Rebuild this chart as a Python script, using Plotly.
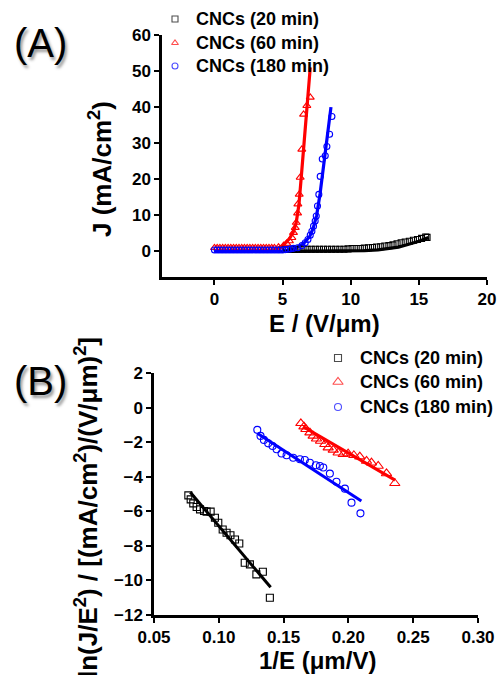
import plotly.graph_objects as go

# ---------------- Panel A data: J (mA/cm2) vs E (V/um) ----------------
E20 = [5.0, 5.3, 5.6, 5.9, 6.2, 6.5, 6.8, 7.1, 7.4, 7.7, 8.0, 8.3, 8.6, 8.9, 9.2, 9.5, 9.8,
       10.1, 10.4, 10.7, 11.0, 11.3, 11.6, 11.9, 12.2, 12.5, 12.8, 13.1, 13.4, 13.7, 14.0,
       14.3, 14.6, 14.9, 15.2, 15.5, 15.6]
J20 = [0.6, 0.6, 0.6, 0.6, 0.6, 0.6, 0.6, 0.6, 0.6, 0.6, 0.6, 0.6, 0.6, 0.6, 0.6, 0.6, 0.7,
       0.8, 0.8, 0.8, 0.9, 1.0, 1.1, 1.2, 1.3, 1.5, 1.6, 1.8, 2.1, 2.4, 2.6,
       2.8, 3.1, 3.3, 3.6, 4.0, 3.9]
E20_fit = [5.0, 10.0, 11.0, 12.0, 12.5, 13.0, 13.5, 14.0, 14.5, 15.0, 15.5, 15.7]
J20_fit = [0.0, 0.1, 0.2, 0.4, 0.6, 0.9, 1.2, 1.7, 2.2, 2.8, 3.5, 3.9]

E60 = [0.0, 0.2, 0.4, 0.6, 0.8, 1.0, 1.2, 1.4, 1.6, 1.8, 2.0, 2.2, 2.4, 2.6, 2.8, 3.0, 3.2,
       3.4, 3.6, 3.8, 4.0, 4.2, 4.4, 4.7, 5.07, 5.3, 5.5, 5.68, 5.8, 5.93, 6.0, 6.1, 6.12,
       6.22, 6.29, 6.41, 6.54, 6.78, 7.03]
J60 = [1.0, 1.0, 1.0, 1.0, 1.0, 1.0, 1.0, 1.0, 1.0, 1.0, 1.0, 1.0, 1.0, 1.0, 1.0, 1.0, 1.0,
       1.0, 1.0, 1.0, 1.0, 1.0, 1.0, 1.2, 1.6, 2.2, 2.9, 3.8, 5.2, 6.6, 8.0, 10.6, 13.1,
       15.8, 20.5, 28.3, 38.0, 40.4, 42.7]
E60_fit = [0.0, 4.0, 4.5, 5.0, 5.5, 5.8, 6.0, 6.2, 6.4, 6.6, 6.8, 7.03]
J60_fit = [0.0, 0.1, 0.6, 1.6, 3.5, 5.5, 8.0, 13.0, 22.0, 31.0, 40.0, 51.0]

E180 = [0.0, 0.2, 0.4, 0.6, 0.8, 1.0, 1.2, 1.4, 1.6, 1.8, 2.0, 2.2, 2.4, 2.6, 2.8, 3.0, 3.2,
        3.4, 3.6, 3.8, 4.0, 4.2, 4.4, 4.6, 4.8, 5.0, 5.2, 5.4, 5.6, 5.8, 6.1, 6.42, 6.66,
        6.86, 7.03, 7.15, 7.27, 7.39, 7.47, 7.56, 7.66, 7.76, 7.91, 8.13, 8.25, 8.45, 8.62]
J180 = [0.4, 0.4, 0.4, 0.4, 0.4, 0.4, 0.4, 0.4, 0.4, 0.4, 0.4, 0.4, 0.4, 0.4, 0.4, 0.4, 0.4,
        0.4, 0.4, 0.4, 0.4, 0.4, 0.4, 0.4, 0.4, 0.4, 0.5, 0.6, 0.7, 0.85, 1.0, 1.6, 2.4,
        3.3, 4.5, 5.6, 7.0, 8.4, 9.8, 12.6, 15.8, 20.8, 25.6, 26.5, 29.1, 32.5, 37.4]
E180_fit = [0.0, 5.0, 5.5, 6.0, 6.5, 7.0, 7.25, 7.5, 7.75, 8.0, 8.25, 8.55]
J180_fit = [0.0, 0.1, 0.4, 1.0, 2.0, 4.2, 6.5, 10.0, 16.0, 23.0, 30.0, 40.0]

# ---------------- Panel B data: ln(J/E^2) vs 1/E ----------------
invE20 = [0.0765, 0.0783, 0.0803, 0.0829, 0.0855, 0.0886, 0.0906, 0.0937, 0.0970, 0.0996,
          0.1030, 0.1060, 0.1090, 0.1125, 0.1158, 0.1200, 0.1240, 0.1290, 0.1340, 0.1394]
lnJ20 = [-5.08, -5.31, -5.54, -5.75, -5.89, -5.98, -6.02, -6.02, -6.37, -6.66,
         -7.05, -7.24, -7.39, -7.63, -7.86, -8.98, -9.07, -9.65, -9.50, -11.0]
invE20_fit = [0.078, 0.140]
lnJ20_fit = [-4.9, -10.4]

invE60 = [0.1633, 0.1657, 0.1672, 0.1703, 0.1728, 0.1754, 0.1785, 0.1818, 0.1844, 0.1883,
          0.1921, 0.1960, 0.1998, 0.2042, 0.2088, 0.2140, 0.2178, 0.2230, 0.2294, 0.2358]
lnJ60 = [-0.91, -1.10, -1.25, -1.45, -1.64, -1.80, -1.93, -2.12, -2.32, -2.45,
         -2.61, -2.70, -2.66, -2.76, -2.84, -3.09, -3.19, -3.38, -3.81, -4.38]
invE60_fit = [0.165, 0.236]
lnJ60_fit = [-1.1, -4.2]

invE180 = [0.1297, 0.1322, 0.1348, 0.1381, 0.1415, 0.1446, 0.1484, 0.1523, 0.1574, 0.1626,
           0.1664, 0.1703, 0.1749, 0.1780, 0.1806, 0.1857, 0.1908, 0.1973, 0.2024, 0.2093]
lnJ180 = [-1.29, -1.64, -1.87, -2.07, -2.22, -2.41, -2.66, -2.76, -2.90, -2.99,
          -3.03, -3.19, -3.34, -3.38, -3.47, -3.82, -4.29, -4.69, -5.50, -6.12]
invE180_fit = [0.130, 0.210]
lnJ180_fit = [-1.5, -5.4]

names = ["CNCs (20 min)", "CNCs (60 min)", "CNCs (180 min)"]
colors = ["#000000", "#FF0000", "#0000FF"]
symbols = ["square-open", "triangle-up-open", "circle-open"]
sizesA = [6, 7, 6]
sizesB = [7, 9, 7]

FONT = "Liberation Sans, Arial, sans-serif"
W, H = 499, 675

# legend layout (pixel positions of the key blocks)
legA_marker_x, legA_text_x, legA_rows = 175, 194, [19, 43, 66]
legB_marker_x, legB_text_x, legB_rows = 338, 358, [358, 382, 407]

fig = go.Figure()

# Panel A
a_marks = [(E20, J20), (E60, J60), (E180, J180)]
a_fits = [(E20_fit, J20_fit), (E60_fit, J60_fit), (E180_fit, J180_fit)]
for i in [1, 2, 0]:
    fx, fy = a_fits[i]
    fig.add_trace(go.Scatter(x=fx, y=fy, mode="lines", line=dict(color=colors[i], width=3.2),
                             showlegend=False, xaxis="x", yaxis="y", hoverinfo="skip"))
for i in range(3):
    mx, my = a_marks[i]
    fig.add_trace(go.Scatter(x=mx, y=my, mode="markers", name=names[i], showlegend=False,
                             marker=dict(symbol=symbols[i], size=sizesA[i], color=colors[i],
                                         line=dict(width=1.1, color=colors[i])),
                             xaxis="x", yaxis="y"))

# Panel B
b_marks = [(invE20, lnJ20), (invE60, lnJ60), (invE180, lnJ180)]
b_fits = [(invE20_fit, lnJ20_fit), (invE60_fit, lnJ60_fit), (invE180_fit, lnJ180_fit)]
for i in range(3):
    mx, my = b_marks[i]
    fig.add_trace(go.Scatter(x=mx, y=my, mode="markers", name=names[i], showlegend=False,
                             marker=dict(symbol=symbols[i], size=sizesB[i], color=colors[i],
                                         line=dict(width=1.1, color=colors[i])),
                             xaxis="x2", yaxis="y2"))
for i in range(3):
    fx, fy = b_fits[i]
    fig.add_trace(go.Scatter(x=fx, y=fy, mode="lines", line=dict(color=colors[i], width=3),
                             showlegend=False, xaxis="x2", yaxis="y2", hoverinfo="skip"))

# legend key symbols drawn on a hidden full-page pixel overlay
for i in range(3):
    fig.add_trace(go.Scatter(x=[legA_marker_x, legB_marker_x], y=[legA_rows[i], legB_rows[i]],
                             mode="markers", showlegend=False, hoverinfo="skip",
                             marker=dict(symbol=symbols[i], size=[6, sizesB[i]], color=colors[i],
                                         line=dict(width=1.1, color=colors[i])),
                             xaxis="x3", yaxis="y3"))


def px_x(p):
    return p / W


def px_y(p):
    return 1 - p / H


axis_common = dict(showline=True, linecolor="black", linewidth=2.5, ticks="outside",
                   ticklen=5, tickwidth=2, tickcolor="black", showgrid=False, zeroline=False,
                   mirror=False, automargin=False,
                   tickfont=dict(family=FONT, size=17, color="black", weight="bold"))

fig.update_layout(
    width=W, height=H,
    margin=dict(l=0, r=0, t=0, b=0, autoexpand=False),
    paper_bgcolor="white", plot_bgcolor="rgba(0,0,0,0)",
    font=dict(family=FONT, color="black"),
    showlegend=False,
    xaxis=dict(domain=[px_x(162), px_x(487)], range=[-3.85, 20], tick0=0, dtick=5,
               anchor="y", **axis_common),
    yaxis=dict(domain=[px_y(277), px_y(35)], range=[-7.1, 60], tick0=0, dtick=10,
               anchor="x", **axis_common),
    xaxis2=dict(domain=[px_x(154), px_x(478)], range=[0.05, 0.30], tick0=0.05, dtick=0.05,
                tickformat=".2f", anchor="y2", **axis_common),
    yaxis2=dict(domain=[px_y(615), px_y(373)], range=[-12, 2], tick0=-12, dtick=2,
                anchor="x2", **axis_common),
    xaxis3=dict(domain=[0, 1], range=[0, W], visible=False, anchor="y3", fixedrange=True),
    yaxis3=dict(domain=[0, 1], range=[H, 0], visible=False, anchor="x3", fixedrange=True),
)

ann = []
for i in range(3):
    ann.append(dict(text=names[i], x=px_x(legA_text_x), y=px_y(legA_rows[i]), xref="paper",
                    yref="paper", showarrow=False, xanchor="left", yanchor="middle",
                    font=dict(family=FONT, size=18, color="black", weight="bold")))
    ann.append(dict(text=names[i], x=px_x(legB_text_x), y=px_y(legB_rows[i]), xref="paper",
                    yref="paper", showarrow=False, xanchor="left", yanchor="middle",
                    font=dict(family=FONT, size=18, color="black", weight="bold")))
ann.append(dict(text="(A)", x=px_x(40), y=px_y(43), xref="paper", yref="paper",
                showarrow=False, xanchor="center", yanchor="middle",
                font=dict(family=FONT, size=40, color="black", shadow="2px 3px 3px #999")))
ann.append(dict(text="(B)", x=px_x(40), y=px_y(381), xref="paper", yref="paper",
                showarrow=False, xanchor="center", yanchor="middle",
                font=dict(family=FONT, size=40, color="black", shadow="2px 3px 3px #999")))
ann.append(dict(text="E / (V/μm)", x=px_x(324), y=px_y(323), xref="paper", yref="paper",
                showarrow=False, xanchor="center", yanchor="middle",
                font=dict(family=FONT, size=24, color="black", weight="bold")))
ann.append(dict(text="J (mA/cm<sup>2</sup>)", x=px_x(100), y=px_y(169), xref="paper",
                yref="paper", showarrow=False, textangle=-90, xanchor="center",
                yanchor="middle", font=dict(family=FONT, size=26, color="black", weight="bold")))
ann.append(dict(text="1/E (μm/V)", x=px_x(317), y=px_y(660), xref="paper", yref="paper",
                showarrow=False, xanchor="center", yanchor="middle",
                font=dict(family=FONT, size=24, color="black", weight="bold")))
ann.append(dict(text="ln(J/E<sup>2</sup>) / [(mA/cm<sup>2</sup>)/(V/μm)<sup>2</sup>]",
                x=px_x(86), y=px_y(508), xref="paper", yref="paper", showarrow=False,
                textangle=-90, xanchor="center", yanchor="middle",
                font=dict(family=FONT, size=26, color="black", weight="bold")))
fig.update_layout(annotations=ann)

fig.write_html("out.html", config={"displayModeBar": False},
               post_script="document.body.style.margin='0px';document.body.style.overflow='hidden';")
